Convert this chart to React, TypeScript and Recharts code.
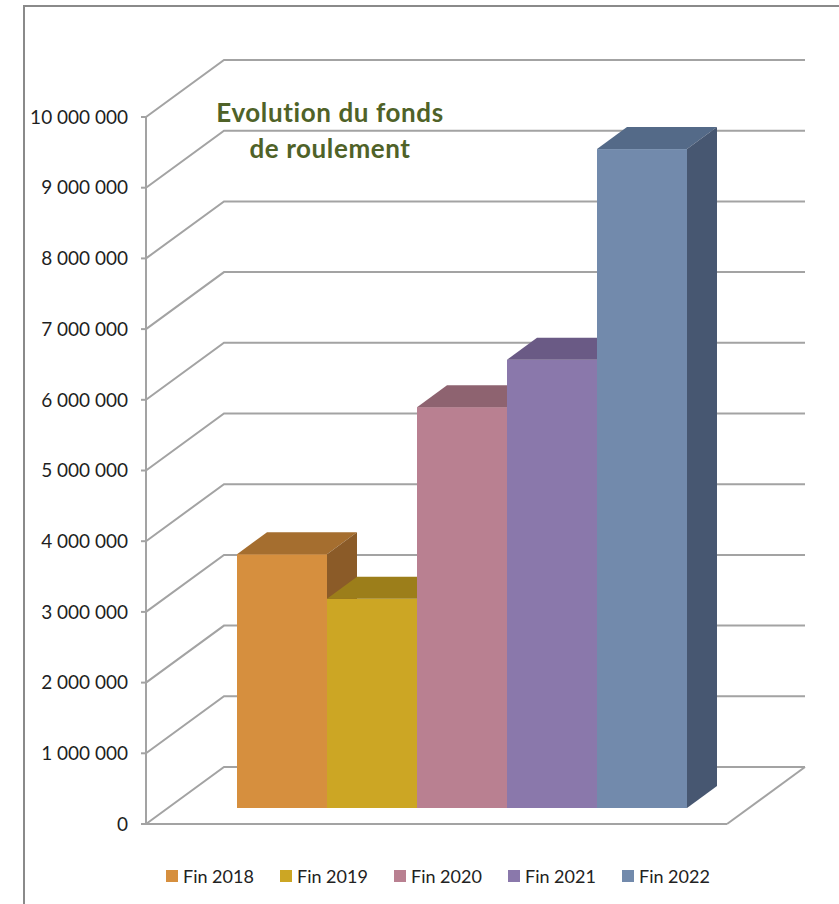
import React from 'react'
import { BarChart, Bar, XAxis, YAxis, CartesianGrid, Legend } from 'recharts'

const categories = ['Fonds de roulement']
const seriesNames = ['Fin 2018', 'Fin 2019', 'Fin 2020', 'Fin 2021', 'Fin 2022']
const seriesValues = [3590000, 2960000, 5670000, 6340000, 9320000]
const yTicks = [0, 1000000, 2000000, 3000000, 4000000, 5000000, 6000000, 7000000, 8000000, 9000000, 10000000]

const FRONT = ['#D68F3E', '#CCA624', '#B98091', '#8A78AB', '#728AAC']
const TOP = ['#A56E2F', '#9C7E1A', '#8E6370', '#6A5A85', '#546A88']
const SIDE = ['#8B5B28', '#83691A', '#78525E', '#594B70', '#475771']

// 3d look: wall depth, bar placement inside the depth, bar depth
const WALL_DX = 78
const WALL_DY = 57
const BAR_X = 25
const BAR_Y = 16
const BAR_DX = 30
const BAR_DY = 22
const GRID = '#a3a3a3'
const FONT = 'Lato, "Open Sans", sans-serif'

const data = categories.map((name) => {
  const row: Record<string, any> = { name }
  seriesNames.forEach((s, i) => { row[s] = seriesValues[i] })
  return row
})

const fmt = (v: number) => String(v).replace(/\B(?=(\d{3})+(?!\d))/g, ' ')

const box = (i: number) => (props: any) => {
  const { x, y, width, height } = props
  const fx = x + BAR_X
  const fy = y - BAR_Y
  const r = fx + width
  return (
    <g>
      <rect x={fx} y={fy} width={width} height={height} fill={FRONT[i]} />
      <polygon
        points={`${fx},${fy} ${r},${fy} ${r + BAR_DX},${fy - BAR_DY} ${fx + BAR_DX},${fy - BAR_DY}`}
        fill={TOP[i]}
      />
      <polygon
        points={`${r},${fy} ${r + BAR_DX},${fy - BAR_DY} ${r + BAR_DX},${fy + height - BAR_DY} ${r},${fy + height}`}
        fill={SIDE[i]}
      />
    </g>
  )
}

const wallLine = (props: any) => {
  const { x1, x2, y1, index } = props
  const bottom = (props.y ?? 0) + (props.height ?? 0)
  const isFloor = Math.abs(y1 - bottom) < 1
  return (
    <g key={`wall-${index}`}>
      <polyline
        points={`${x1},${y1} ${x1 + WALL_DX},${y1 - WALL_DY} ${x2 + WALL_DX},${y1 - WALL_DY}`}
        fill="none"
        stroke={GRID}
        strokeWidth={2}
      />
      {isFloor && (
        <line x1={x2} y1={y1} x2={x2 + WALL_DX} y2={y1 - WALL_DY} stroke={GRID} strokeWidth={2} />
      )}
    </g>
  )
}

const legendContent = (props: any) => {
  const items = props.payload || []
  return (
    <div style={{ display: 'flex', alignItems: 'center', height: 24, paddingLeft: 166, fontFamily: FONT }}>
      {items.map((it: any) => (
        <div key={it.value} style={{ display: 'flex', alignItems: 'center', marginRight: 23 }}>
          <span style={{ width: 12, height: 12, background: it.color, marginRight: 5, display: 'inline-block' }} />
          <span style={{ fontSize: 18, color: '#222', width: 74, whiteSpace: 'nowrap' }}>{it.value}</span>
        </div>
      ))}
    </div>
  )
}

export default function App() {
  return (
    <div style={{ position: 'absolute', left: 0, top: 0, width: 839, height: 904, overflow: 'hidden', background: '#fff' }}>
      <div style={{ position: 'absolute', left: 23, top: 5, width: 900, height: 1000, border: '2px solid #8a8a8a' }} />
      <BarChart
        width={839}
        height={904}
        data={data}
        margin={{ top: 117, right: 112, left: 0, bottom: 16 }}
        barGap={0}
      >
        <CartesianGrid vertical={false} horizontal={wallLine} />
        <XAxis
          dataKey="name"
          height={40}
          tick={false}
          tickLine={false}
          axisLine={{ stroke: GRID, strokeWidth: 2 }}
        />
        <YAxis
          width={146}
          domain={[0, 10000000]}
          ticks={yTicks}
          interval={0}
          tickFormatter={fmt}
          tickSize={5}
          tickMargin={13}
          tick={{ fill: '#1f1f1f', fontSize: 19, fontFamily: FONT }}
          axisLine={{ stroke: GRID, strokeWidth: 2 }}
          tickLine={{ stroke: GRID, strokeWidth: 2 }}
        />
        {seriesNames.map((s, i) => (
          <Bar
            key={s}
            dataKey={s}
            fill={FRONT[i]}
            barSize={90}
            legendType="square"
            shape={box(i)}
            isAnimationActive={false}
          />
        ))}
        <Legend verticalAlign="bottom" content={legendContent} wrapperStyle={{ left: 0, width: 839 }} />
      </BarChart>
      <div
        style={{
          position: 'absolute', left: 180, top: 94, width: 300, textAlign: 'center',
          fontFamily: FONT, fontWeight: 700, fontSize: 26, lineHeight: '36px',
          letterSpacing: 0.6, color: '#4F6228',
        }}
      >
        Evolution du fonds
        <br />
        de roulement
      </div>
    </div>
  )
}
